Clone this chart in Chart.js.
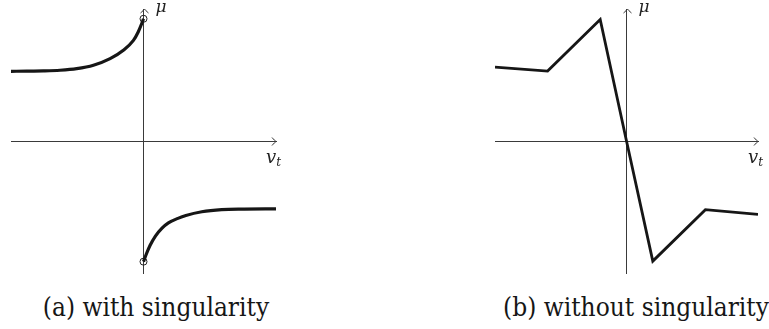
<!DOCTYPE html>
<html>
<head>
<meta charset="utf-8">
<script src="https://cdn.jsdelivr.net/npm/chart.js@4"></script>
<style>
  body { margin: 0; background: #fff; width: 769px; height: 329px; position: relative; overflow: hidden; }
  canvas { position: absolute; top: 0; }
  #chartA { left: 0; }
  #chartB { left: 480px; }
  .caption {
    position: absolute; top: 293px; line-height: 29px;
    font-family: "DejaVu Serif Condensed", "DejaVu Serif", serif; font-stretch: condensed; font-size: 26px;
    color: #161616; white-space: nowrap; transform: translateX(-50%);
  }
</style>
</head>
<body>
<canvas id="chartA" width="290" height="285"></canvas>
<canvas id="chartB" width="289" height="285"></canvas>
<div class="caption" style="left:156px">(a) with singularity</div>
<div class="caption" style="left:636px">(b) without singularity</div>
<script>
const axisMin = -5;
const axisMax = 5;

// (a) two branches of the friction law, open at v_t = 0
const upperX = [-5, -4.4, -3.78, -3.15, -2.52, -1.89, -1.26, -0.76, -0.38, -0.2, -0.07, 0];
const upperY = [2.64, 2.645, 2.655, 2.68, 2.74, 2.87, 3.12, 3.44, 3.81, 4.13, 4.44, 4.63];
const lowerX = [0, 0.1, 0.25, 0.45, 0.7, 0.94, 1.3, 1.6, 2.2, 2.95, 3.8, 5];
const lowerY = [-4.57, -4.3, -3.95, -3.6, -3.3, -3.1, -2.93, -2.82, -2.68, -2.6, -2.58, -2.57];
const holeX = [0, 0];
const holeY = [4.63, -4.57];

// (b) piecewise linear law through the origin
const smoothX = [-5, -3, -1, 0, 1, 3, 5];
const smoothY = [2.8, 2.65, 4.6, 0, -4.55, -2.6, -2.78];

const axisColor = '#3a3a3a';
const lineColor = '#161616';
const labelFont = '"DejaVu Serif", serif';

const toPoints = (xs, ys) => xs.map((x, i) => ({x: x, y: ys[i]}));

// arrow tips on both axes plus the mu / v_t labels
const axisArrows = {
  id: 'axisArrows',
  afterDatasetsDraw(chart) {
    const {ctx, chartArea, scales: {x, y}} = chart;
    const x0 = Math.round(x.getPixelForValue(0)) + 0.5;
    const y0 = Math.round(y.getPixelForValue(0)) + 0.5;
    const r = chartArea.right, t = chartArea.top;
    ctx.save();
    ctx.strokeStyle = axisColor;
    ctx.lineWidth = 1;
    ctx.beginPath();
    ctx.moveTo(r - 4, y0 - 4);
    ctx.quadraticCurveTo(r - 1.5, y0 - 1, r, y0);
    ctx.quadraticCurveTo(r - 1.5, y0 + 1, r - 4, y0 + 4);
    ctx.moveTo(x0 - 4, t + 4);
    ctx.quadraticCurveTo(x0 - 1, t + 1.5, x0, t);
    ctx.quadraticCurveTo(x0 + 1, t + 1.5, x0 + 4, t + 4);
    ctx.stroke();

    ctx.fillStyle = '#222';
    ctx.textBaseline = 'alphabetic';
    ctx.font = 'italic 17px ' + labelFont;
    ctx.fillText('μ', x0 + 11, t + 3);
    ctx.font = 'italic 18px ' + labelFont;
    ctx.fillText('v', r - 10, y0 + 21);
    const vw = ctx.measureText('v').width;
    ctx.font = 'italic 12px ' + labelFont;
    ctx.fillText('t', r - 10 + vw, y0 + 24);
    ctx.restore();
  }
};

const centeredScales = {
  x: {
    type: 'linear', min: axisMin, max: axisMax,
    position: {y: 0},
    ticks: {display: false},
    grid: {display: false, drawTicks: false},
    border: {color: axisColor, width: 1}
  },
  y: {
    type: 'linear', min: axisMin, max: axisMax,
    position: {x: 0},
    ticks: {display: false},
    grid: {display: false, drawTicks: false},
    border: {color: axisColor, width: 1}
  }
};

const baseOptions = (padding) => ({
  responsive: false,
  animation: false,
  layout: {padding: padding},
  plugins: {legend: {display: false}, tooltip: {enabled: false}},
  scales: centeredScales,
  elements: {point: {radius: 0}}
});

new Chart(document.getElementById('chartA'), {
  type: 'line',
  data: {
    datasets: [{
      data: toPoints(upperX, upperY),
      borderColor: lineColor, borderWidth: 3.2,
      cubicInterpolationMode: 'monotone', pointRadius: 0
    }, {
      data: toPoints(lowerX, lowerY),
      borderColor: lineColor, borderWidth: 3.2,
      cubicInterpolationMode: 'monotone', pointRadius: 0
    }, {
      data: toPoints(holeX, holeY),
      showLine: false,
      pointRadius: 3.5, pointBorderWidth: 1,
      pointBorderColor: '#222', pointBackgroundColor: 'rgba(0,0,0,0)'
    }]
  },
  options: baseOptions({left: 11, right: 14, top: 9, bottom: 12}),
  plugins: [axisArrows]
});

new Chart(document.getElementById('chartB'), {
  type: 'line',
  data: {
    datasets: [{
      data: toPoints(smoothX, smoothY),
      borderColor: lineColor, borderWidth: 2.8,
      tension: 0, pointRadius: 0,
      borderJoinStyle: 'miter'
    }]
  },
  options: baseOptions({left: 15, right: 11, top: 9, bottom: 12}),
  plugins: [axisArrows]
});
</script>
</body>
</html>
